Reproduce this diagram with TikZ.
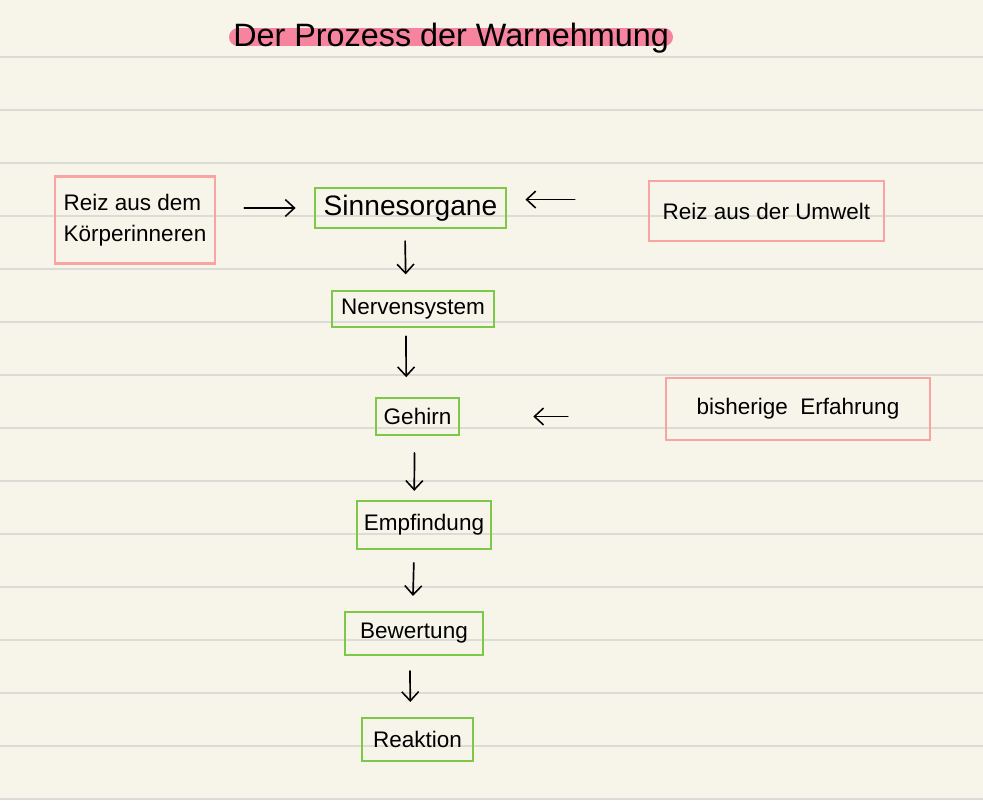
\documentclass[tikz,border=0pt]{standalone}
\usepackage{fontspec}
\setmainfont{Liberation Sans}
\usetikzlibrary{arrows.meta}
\definecolor{papier}{HTML}{F7F5EA}
\definecolor{linie}{HTML}{DCDCD6}
\definecolor{rosa}{HTML}{F9A3A3}
\definecolor{gruen}{HTML}{7DC846}
\definecolor{marker}{HTML}{F7849F}
\tikzset{
	reiz/.style={draw=rosa, line width=1.6pt, inner sep=0pt, font=\fontsize{16}{22}\selectfont},
	stufe/.style={draw=gruen, line width=1.6pt, inner sep=0pt, font=\fontsize{16}{20}\selectfont},
	pfeil/.style={-{Straight Barb[length=6.5pt,width=12pt,line width=1.1pt]}, line width=1.2pt, line cap=round}
}

\begin{document}
\begin{tikzpicture}[x=0.025cm, y=-0.025cm]
		%%%%% START %%%%%
		\fill[papier] (0, 0) rectangle (983, 800);
		\useasboundingbox (0, 0) rectangle (983, 800);
		\foreach \k in {0,...,14}
			\draw[linie, line width=1.4pt] (0, 57+53*\k) -- (983, 57+53*\k);
		
		\draw[marker, line width=12.8pt, line cap=round] (238, 37.5) -- (664, 37.5);
		\node[anchor=base west, inner sep=0pt, font=\fontsize{23}{26}\selectfont] (titel) at (233, 47) {Der Prozess der Warnehmung};
		
		\node[reiz, minimum width=4cm, minimum height=2.175cm, align=left] (koerper) at (135, 220) {Reiz aus dem\\Körperinneren};
		\node[stufe, minimum width=4.775cm, minimum height=1cm, font=\fontsize{20}{24}\selectfont] (sinne) at (410.5, 208) {Sinnesorgane};
		\node[reiz, minimum width=5.875cm, minimum height=1.5cm] (umwelt) at (766.5, 211) {Reiz aus der Umwelt};
		
		\node[stufe, minimum width=4.05cm, minimum height=0.9cm] (nerven) at (413, 309) {Nervensystem};
		\node[stufe, minimum width=2.075cm, minimum height=0.925cm] (gehirn) at (417.5, 416.5) {Gehirn};
		\node[reiz, minimum width=6.6cm, minimum height=1.55cm] (erfahrung) at (798, 409) {bisherige\ \ Erfahrung};
		
		\node[stufe, minimum width=3.35cm, minimum height=1.2cm] (empf) at (424, 525) {Empfindung};
		\node[stufe, minimum width=3.45cm, minimum height=1.075cm] (bew) at (414, 633.5) {Bewertung};
		\node[stufe, minimum width=2.775cm, minimum height=1.075cm] (reak) at (417.5, 739.5) {Reaktion};
		
		\draw[pfeil, shorten <=20pt, shorten >=13pt] (koerper.east |- sinne.west) -- (sinne.west);
		\draw[pfeil, shorten <=52pt, shorten >=13pt] ([yshift=6pt]umwelt.west |- sinne.east) -- ([yshift=6pt]sinne.east);
		\draw[pfeil, shorten <=69pt, shorten >=52pt] (erfahrung.west |- gehirn.east) -- (gehirn.east);
		
		\draw[pfeil, shorten <=8.5pt, shorten >=11pt] ([xshift=-4pt]sinne.south) -- ([xshift=-5pt]nerven.north);
		\draw[pfeil, shorten <=5.7pt, shorten >=14pt] ([xshift=-5pt]nerven.south) -- ([xshift=-8pt]gehirn.north);
		\draw[pfeil, shorten <=12pt, shorten >=6.4pt] ([xshift=-2pt]gehirn.south) -- ([xshift=-7pt]empf.north);
		\draw[pfeil, shorten <=9pt, shorten >=10.6pt] ([xshift=-7pt]empf.south) -- ([xshift=-1pt]bew.north);
		\draw[pfeil, shorten <=10.6pt, shorten >=10.6pt] ([xshift=-3pt]bew.south) -- ([xshift=-5pt]reak.north);
		%%%%% END %%%%%
\end{tikzpicture}
\end{document}
